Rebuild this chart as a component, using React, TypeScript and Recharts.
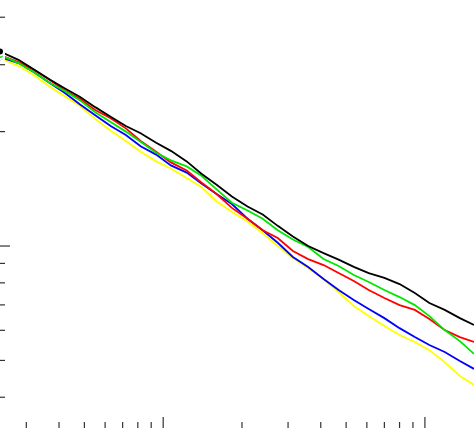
import React from 'react';
import {Line, LineChart, XAxis, YAxis} from "recharts";

// sample positions along the x axis (log scale)
const sizes = [2.38, 2.8, 3.2, 3.7, 4.2, 4.8, 5.5, 6.3, 7.2, 8.2, 9.4, 10.7, 12.3, 14, 16, 18.3,
    21, 24, 27.4, 31.3, 35.8, 41, 46.8, 53.5, 61, 70, 80, 91.5, 104, 119, 136, 154];

const black = [3.25, 3.09, 2.92, 2.74, 2.60, 2.47, 2.32, 2.19, 2.07, 1.98, 1.87, 1.78, 1.67, 1.55, 1.45, 1.35,
    1.27, 1.21, 1.13, 1.06, 1.00, 0.958, 0.921, 0.881, 0.849, 0.824, 0.794, 0.752, 0.708, 0.679, 0.646, 0.620];
const red = [3.18, 3.05, 2.91, 2.73, 2.57, 2.44, 2.28, 2.17, 2.04, 1.89, 1.77, 1.66, 1.58, 1.47, 1.37, 1.26,
    1.18, 1.10, 1.05, 0.970, 0.924, 0.891, 0.849, 0.809, 0.766, 0.730, 0.699, 0.679, 0.643, 0.601, 0.576, 0.559];
const green = [3.18, 3.03, 2.87, 2.68, 2.56, 2.42, 2.25, 2.12, 2.00, 1.88, 1.76, 1.68, 1.62, 1.53, 1.41, 1.30,
    1.24, 1.18, 1.10, 1.04, 0.994, 0.924, 0.886, 0.839, 0.804, 0.766, 0.734, 0.699, 0.654, 0.601, 0.562, 0.520];
const blue = [3.14, 3.03, 2.87, 2.68, 2.53, 2.36, 2.21, 2.07, 1.96, 1.83, 1.74, 1.63, 1.56, 1.46, 1.37, 1.29,
    1.18, 1.10, 1.02, 0.936, 0.881, 0.819, 0.766, 0.721, 0.683, 0.646, 0.608, 0.576, 0.549, 0.526, 0.498, 0.475];
const yellow = [3.12, 2.98, 2.82, 2.62, 2.48, 2.34, 2.16, 2.01, 1.89, 1.77, 1.67, 1.60, 1.51, 1.43, 1.31, 1.23,
    1.16, 1.08, 1.00, 0.930, 0.875, 0.819, 0.757, 0.695, 0.654, 0.616, 0.583, 0.559, 0.532, 0.495, 0.455, 0.431];

const xTicks = [3, 4, 5, 6, 7, 8, 9, 10, 20, 30, 40, 50, 60, 70, 80, 90, 100];
const xMajor = [10, 100];
const yTicks = [0.4, 0.5, 0.6, 0.7, 0.8, 0.9, 1, 2, 3, 4];
const yMajor = [1];

const data = sizes.map((n, i) => ({
    n, black: black[i], red: red[i], green: green[i], blue: blue[i], yellow: yellow[i],
}));

const XTick = (props: any) => {
    const {x, y, payload} = props;
    const len = xMajor.includes(payload.value) ? 11 : 6;
    return <line x1={x} y1={y} x2={x} y2={y - len} stroke="#333" strokeWidth={1.2}/>;
};

const YTick = (props: any) => {
    const {x, y, payload} = props;
    const len = yMajor.includes(payload.value) ? 10 : 5;
    return <line x1={x} y1={y} x2={x + len} y2={y} stroke="#333" strokeWidth={1.2}/>;
};

const App = () => {
    return (
        <div style={{position: 'absolute', left: 0, top: 0, background: '#fff'}}>
            <LineChart width={474} height={428} data={data} margin={{top: 0, right: 0, bottom: 0, left: 0}}>
                <XAxis dataKey="n" type="number" scale="log" domain={[2.38, 154]} allowDataOverflow
                       ticks={xTicks} orientation="bottom" mirror axisLine={false} tickLine={false}
                       tickSize={0} tickMargin={0} tick={<XTick/>} interval={0}/>
                <YAxis type="number" scale="log" domain={[0.332, 4.44]} allowDataOverflow
                       ticks={yTicks} orientation="left" mirror axisLine={false} tickLine={false}
                       tickSize={0} tickMargin={0} tick={<YTick/>} interval={0}/>
                <Line type="linear" dataKey="yellow" stroke="#ffff00" strokeWidth={1.8} dot={false} isAnimationActive={false}/>
                <Line type="linear" dataKey="blue" stroke="#0000ff" strokeWidth={1.8} dot={false} isAnimationActive={false}/>
                <Line type="linear" dataKey="red" stroke="#ff0000" strokeWidth={1.8} dot={false} isAnimationActive={false}/>
                <Line type="linear" dataKey="green" stroke="#00e600" strokeWidth={1.8} dot={false} isAnimationActive={false}/>
                <Line type="linear" dataKey="black" stroke="#000000" strokeWidth={1.8} dot={false} isAnimationActive={false}/>
            </LineChart>
        </div>
    );
}

export default App;
